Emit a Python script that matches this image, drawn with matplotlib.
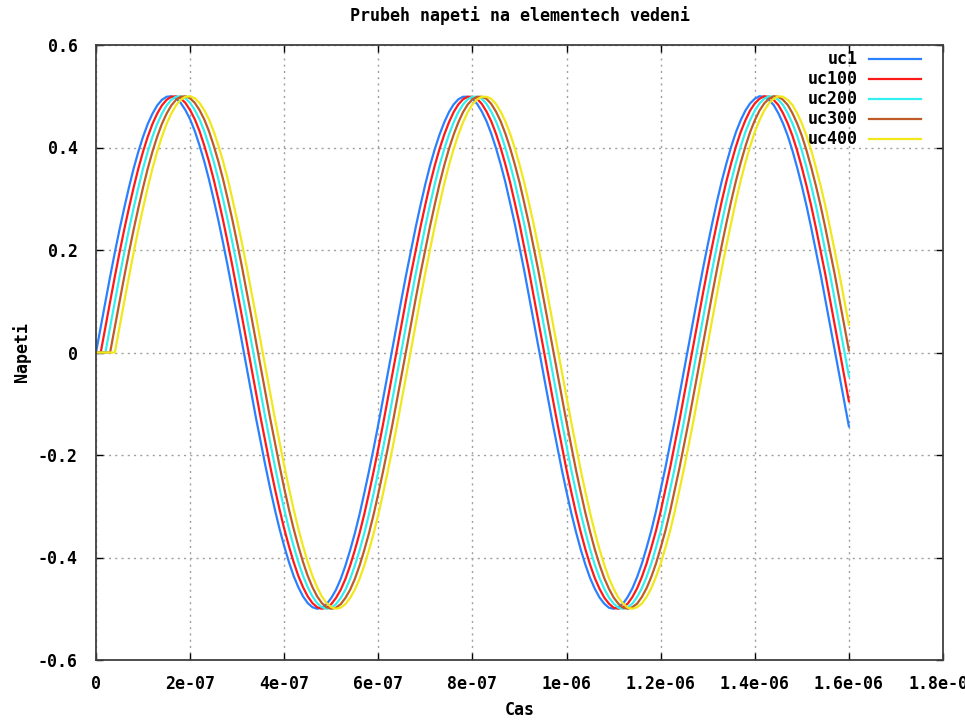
import numpy as np
import matplotlib
matplotlib.use("Agg")
from matplotlib import pyplot as plt

dt = 1e-8
uc1 = [
    0.000, 0.050, 0.099, 0.148, 0.195, 0.240, 0.282, 0.322, 0.359, 0.392,
    0.421, 0.446, 0.466, 0.482, 0.493, 0.499, 0.500, 0.496, 0.487, 0.473,
    0.455, 0.432, 0.404, 0.373, 0.338, 0.299, 0.258, 0.214, 0.168, 0.120,
    0.071, 0.021, -0.029, -0.079, -0.128, -0.175, -0.221, -0.265, -0.306, -0.344,
    -0.378, -0.409, -0.436, -0.458, -0.476, -0.489, -0.497, -0.500, -0.498, -0.491,
    -0.479, -0.463, -0.442, -0.416, -0.386, -0.353, -0.316, -0.275, -0.232, -0.187,
    -0.140, -0.091, -0.042, 0.008, 0.058, 0.108, 0.156, 0.202, 0.247, 0.289,
    0.329, 0.365, 0.397, 0.425, 0.449, 0.469, 0.484, 0.494, 0.499, 0.499,
    0.495, 0.485, 0.470, 0.451, 0.427, 0.399, 0.367, 0.332, 0.292, 0.251,
    0.206, 0.160, 0.111, 0.062, 0.012, -0.038, -0.087, -0.136, -0.183, -0.229,
    -0.272, -0.313, -0.350, -0.384, -0.414, -0.440, -0.461, -0.478, -0.490, -0.498,
    -0.500, -0.497, -0.490, -0.477, -0.460, -0.438, -0.412, -0.381, -0.348, -0.310,
    -0.268, -0.225, -0.179, -0.132, -0.083, -0.033, 0.017, 0.067, 0.116, 0.164,
    0.210, 0.254, 0.296, 0.335, 0.370, 0.402, 0.430, 0.453, 0.472, 0.486,
    0.495, 0.500, 0.499, 0.493, 0.483, 0.467, 0.447, 0.423, 0.394, 0.361,
    0.325, 0.286, 0.243, 0.198, 0.152, 0.103, 0.054, 0.004, -0.046, -0.095,
    -0.144,
]

# the other elements see the same wave, delayed (in samples)
names = ["uc1", "uc100", "uc200", "uc300", "uc400"]
delay_steps = [0, 1, 2, 3, 4]
colors = ["#2a80ff", "#ff1a1a", "#33f0f0", "#c05a28", "#f0e81a"]

xticks = [0, 2e-7, 4e-7, 6e-7, 8e-7, 1e-6, 1.2e-6, 1.4e-6, 1.6e-6, 1.8e-6]
xticklabels = ["0", "2e-07", "4e-07", "6e-07", "8e-07", "1e-06",
               "1.2e-06", "1.4e-06", "1.6e-06", "1.8e-06"]
yticks = [-0.6, -0.4, -0.2, 0, 0.2, 0.4, 0.6]
yticklabels = ["-0.6", "-0.4", "-0.2", "0", "0.2", "0.4", "0.6"]

plt.rcParams['font.family'] = ['DejaVu Sans Mono']
plt.rcParams['font.weight'] = 'bold'
fs = 12

fig = plt.figure(figsize=(9.65, 7.22), dpi=100)
W, H = 965., 722.
L, R, T, B = 96, 943, 45, 660
ax = fig.add_axes([L/W, 1-B/H, (R-L)/W, (B-T)/H])

u = np.array(uc1)
t = dt*np.arange(len(u))
for name, d, c in zip(names, delay_steps, colors):
    v = np.concatenate([np.zeros(d), u[:len(u)-d]])
    ax.plot(t, v, color=c, lw=1.6, label=name)

ax.set_xlim(0, 1.8e-6)
ax.set_ylim(-0.6, 0.6)
ax.set_xticks(xticks)
ax.set_xticklabels(xticklabels, fontsize=fs)
ax.set_yticks(yticks)
ax.set_yticklabels(yticklabels, fontsize=fs)
ax.tick_params(direction='in', length=5, width=1, top=True, right=True,
               color='black')
ax.tick_params(axis='x', pad=11)
ax.tick_params(axis='y', pad=13)
ax.grid(True, color='#a0a0a0', lw=1, linestyle=(0, (1.5, 3)))
for s in ax.spines.values():
    s.set_color('#404040')
    s.set_linewidth(1.3)

ax.set_title("Prubeh napeti na elementech vedeni", fontsize=fs,
             fontweight='bold', pad=17)
ax.set_xlabel("Cas", fontsize=fs, fontweight='bold', va='center')
ax.xaxis.set_label_coords(0.5, -0.0813)
ax.set_ylabel("Napeti", fontsize=fs, fontweight='bold', va='center')
ax.yaxis.set_label_coords(-0.0874, 0.5)

# gnuplot style key: label, then line sample
for i, (name, c) in enumerate(zip(names, colors)):
    y = 0.9767 - i*0.0325
    ax.text(0.8997, y, name, transform=ax.transAxes, ha='right', va='center',
            fontsize=fs)
    ax.plot([0.9126, 0.974], [y, y], transform=ax.transAxes, color=c, lw=1.6)

fig.savefig("out.png", dpi=100)
